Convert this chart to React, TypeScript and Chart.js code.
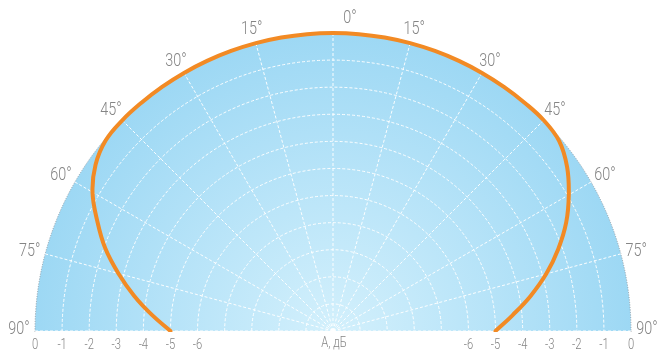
import React, { useEffect, useRef } from 'react';
import { Chart, registerables } from 'chart.js';

Chart.register(...registerables);

// Direction angles (degrees from the main axis) at which the level is given
const sideAngles = [0, 5, 10, 15, 20, 25, 30, 35, 40, 45, 50, 55, 60, 65, 70, 75, 80, 85, 90];

// Relative level, dB, on the left and right side of the main axis
const leftLevelsDb = [0, 0, 0, 0, 0, 0, 0, 0, 0, 0, -0.05, -0.3, -0.75, -1.4, -2.05, -2.8, -3.55, -4.3, -5.0];
const rightLevelsDb = [0, 0, 0, 0, 0, 0, 0, 0, 0, 0, -0.1, -0.45, -0.95, -1.5, -2.15, -2.85, -3.6, -4.35, -5.0];

// Angle marks printed around the arc
const angleMarks = [0, 15, 30, 45, 60, 75, 90];

// Level ticks printed along the base line
const levelTicks = [0, -1, -2, -3, -4, -5, -6];
const levelMin = -11;
const levelMax = 0;
const axisTitle = 'А, дБ';

const LABEL_FONT = 'Roboto, "Noto Sans", sans-serif';
const LINE_COLOR = '#f28a24';
const TEXT_COLOR = '#858585';
const NARROW = 0.8; // horizontal squeeze for a condensed look

// Full-circle bearings (clockwise from the top), one per 5°
const bearings: number[] = [];
for (let b = 0; b < 360; b += 5) bearings.push(b);

function levelAtBearing(b: number): number | null {
  if (b <= 90) return rightLevelsDb[sideAngles.indexOf(b)];
  if (b >= 270) return leftLevelsDb[sideAngles.indexOf(360 - b)];
  return null;
}

function isUpper(b: number) {
  return b <= 90 || b >= 270;
}

function narrowText(ctx: CanvasRenderingContext2D, text: string, x: number, y: number) {
  ctx.save();
  ctx.translate(x, y);
  ctx.scale(NARROW, 1);
  ctx.fillText(text, 0, 0);
  ctx.restore();
}

const halfDiskPlugin = {
  id: 'halfDisk',
  beforeDraw(chart: any) {
    const scale = chart.scales.r;
    const { ctx } = chart;
    const cx = scale.xCenter;
    const cy = scale.yCenter;
    const R = scale.drawingArea;
    ctx.save();
    // keep everything above the base line
    ctx.beginPath();
    ctx.rect(0, 0, chart.width, cy + 1);
    ctx.clip();
    const g = ctx.createRadialGradient(cx, cy, 0, cx, cy, R);
    g.addColorStop(0, '#d3f0fc');
    g.addColorStop(0.55, '#b6e3f8');
    g.addColorStop(1, '#9dd8f4');
    ctx.fillStyle = g;
    ctx.beginPath();
    ctx.moveTo(cx - R, cy);
    ctx.arc(cx, cy, R, Math.PI, 2 * Math.PI);
    ctx.closePath();
    ctx.fill();
  },
  afterDraw(chart: any) {
    const scale = chart.scales.r;
    const { ctx } = chart;
    ctx.restore();
    const cx = scale.xCenter;
    const cy = scale.yCenter;

    ctx.save();
    ctx.fillStyle = TEXT_COLOR;
    ctx.textAlign = 'center';
    ctx.textBaseline = 'alphabetic';

    // angle marks around the arc
    const markSize = 18;
    ctx.font = `300 ${markSize}px ${LABEL_FONT}`;
    angleMarks.forEach((a) => {
      const sides = a === 0 ? [0] : [a, 360 - a];
      sides.forEach((b) => {
        const idx = bearings.indexOf(b);
        const p = scale.getPointPosition(idx, scale.drawingArea + 16);
        const dx = a === 0 ? 17 : 0;
        const dy = a === 90 ? -3 : 0;
        narrowText(ctx, `${a}°`, p.x + dx, p.y + dy + markSize * 0.36);
      });
    });

    // level ticks along the base line
    const tickSize = 14;
    ctx.font = `300 ${tickSize}px ${LABEL_FONT}`;
    const ty = cy + 12.5 + tickSize * 0.36;
    levelTicks.forEach((v) => {
      const d = scale.getDistanceFromCenterForValue(v);
      narrowText(ctx, String(v), cx - d, ty);
      narrowText(ctx, String(v), cx + d, ty);
    });
    narrowText(ctx, axisTitle, cx + 1, cy + 11 + tickSize * 0.36);
    ctx.restore();
  },
};

export default function App() {
  const canvasRef = useRef<HTMLCanvasElement | null>(null);

  useEffect(() => {
    const canvas = canvasRef.current;
    if (!canvas) return;
    const chart = new Chart(canvas, {
      type: 'radar',
      data: {
        labels: bearings.map((b) => String(b)),
        datasets: [
          {
            data: bearings.map(levelAtBearing) as any,
            borderColor: LINE_COLOR,
            borderWidth: 4,
            pointRadius: 0,
            pointHoverRadius: 0,
            fill: false,
            tension: 0.4,
            spanGaps: false,
            borderCapStyle: 'round',
          },
        ],
      },
      options: {
        responsive: false,
        devicePixelRatio: 1,
        animation: false,
        events: [],
        layout: { padding: { left: 35, right: 31, top: 33, bottom: 19 } },
        elements: { line: { tension: 0.4, capBezierPoints: false } },
        plugins: {
          legend: { display: false },
          title: { display: false },
          tooltip: { enabled: false },
        },
        scales: {
          r: {
            min: levelMin,
            max: levelMax,
            startAngle: 0,
            ticks: { display: false, stepSize: 1 },
            pointLabels: { display: false },
            // half-disk: centre sits on the bottom edge of the plot area
            afterFit: (scale: any) => {
              const area = scale.chart.chartArea;
              scale.xCenter = (area.left + area.right) / 2;
              scale.yCenter = area.bottom;
              scale.drawingArea = Math.min((area.right - area.left) / 2, area.bottom - area.top);
            },
            grid: {
              circular: true,
              lineWidth: 1,
              color: (ctx: any) =>
                ctx.tick && ctx.tick.value === levelMax ? 'rgba(140,150,158,0.9)' : 'rgba(255,255,255,0.95)',
            },
            border: {
              dash: (ctx: any) => (ctx.tick && ctx.tick.value === levelMax ? [1, 1.5] : [3, 2]),
            },
            angleLines: {
              lineWidth: 1,
              borderDash: [3, 2],
              color: (ctx: any) => {
                const b = bearings[ctx.index];
                return b % 15 === 0 && isUpper(b) ? 'rgba(255,255,255,0.95)' : 'transparent';
              },
            },
          },
        },
      } as any,
      plugins: [halfDiskPlugin],
    });
    return () => chart.destroy();
  }, []);

  return (
    <div style={{ position: 'fixed', left: 0, top: 0, width: 662, height: 350, background: '#fff' }}>
      <canvas ref={canvasRef} width={662} height={350} style={{ display: 'block' }} />
    </div>
  );
}
